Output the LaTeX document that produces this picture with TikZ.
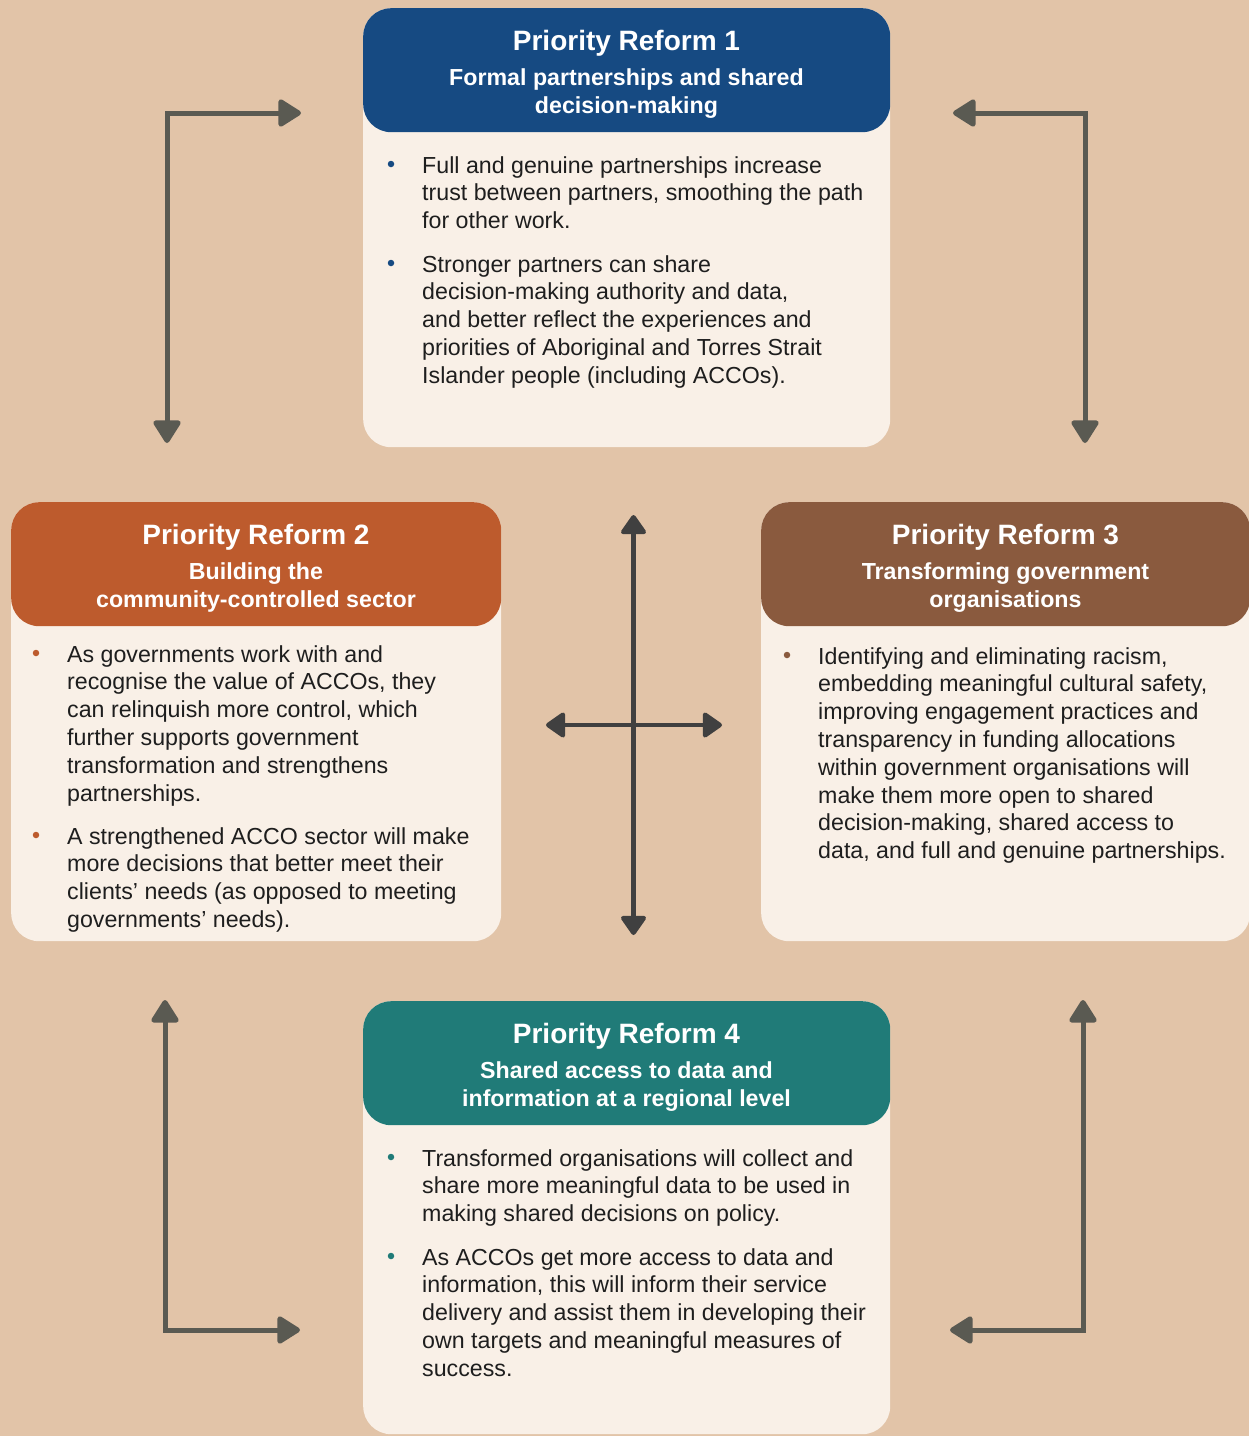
\documentclass[tikz,border=0pt]{standalone}
\usepackage{fontspec}
\setmainfont{Liberation Sans}
\usetikzlibrary{arrows.meta}
\definecolor{bg}{HTML}{E2C4A8}
\definecolor{bodyc}{HTML}{F9F0E7}
\definecolor{pblue}{HTML}{164A82}
\definecolor{porange}{HTML}{BD5B2D}
\definecolor{pbrown}{HTML}{8A5A3E}
\definecolor{pteal}{HTML}{207B78}
\definecolor{agray}{HTML}{5A5A52}
\definecolor{cgray}{HTML}{404040}
\definecolor{txt}{HTML}{1E1E1E}
\newcommand{\bodyfont}{\fontsize{23.2}{27.8}\selectfont}
\newcommand{\para}[1]{\parbox[t]{470pt}{\raggedright\bodyfont #1}}
\newcommand{\subt}[1]{\parbox[t]{480pt}{\centering\fontsize{23.2}{28}\selectfont\bfseries #1}}
\tikzset{
  bodybox/.style={fill=bodyc, draw=none, rounded corners=28pt, anchor=north west, inner sep=0},
  headbox/.style={draw=none, rounded corners=28pt, anchor=north west, inner sep=0, minimum height=124pt},
  titletext/.style={anchor=base, inner sep=0, text=white, font=\fontsize{28}{34}\selectfont\bfseries},
  subtext/.style={anchor=base, inner sep=0, text=white},
  bodytext/.style={anchor=base west, inner sep=0, text=txt},
  bulletdot/.style={circle, inner sep=0, minimum size=6.5pt, draw=none},
  looptip/.tip={Triangle[width=30pt 0,length=25pt 0,line join=round]},
  crosstip/.tip={Triangle[width=28pt 0,length=21pt 0,line join=round]},
  looparrow/.style={draw=agray, line width=5pt, looptip-looptip},
  crossarrow/.style={draw=cgray, line width=4.5pt, crosstip-crosstip}
}
\begin{document}
\begin{tikzpicture}[x=1pt, y=-1pt]
\path[use as bounding box, fill=bg] (0,0) rectangle (1249,1436);

% ---------- Box 1 ----------
\node[bodybox, minimum width=527pt, minimum height=439pt] (b1) at (363,8) {};
\node[headbox, fill=pblue, minimum width=527pt] (h1) at (363,8) {};
\node[titletext] (t1) at (626.5,50) {Priority Reform 1};
\node[subtext] (s1) at (626.5,85) {\subt{Formal partnerships and shared\\decision-making}};
\node[bulletdot, fill=pblue] (d11) at (391,164) {};
\node[bodytext] (p11) at (422,173) {\para{Full and genuine partnerships increase\\trust between partners, smoothing the path\\for other work.}};
\node[bulletdot, fill=pblue] (d12) at (391,263) {};
\node[bodytext] (p12) at (422,272) {\para{Stronger partners can share\\decision-making authority and data,\\and better reflect the experiences and\\priorities of Aboriginal and Torres Strait\\Islander people (including ACCOs).}};

% ---------- Box 2 ----------
\node[bodybox, minimum width=490pt, minimum height=439pt] (b2) at (11,502) {};
\node[headbox, fill=porange, minimum width=490pt] (h2) at (11,502) {};
\node[titletext] (t2) at (256,544) {Priority Reform 2};
\node[subtext] (s2) at (256,579) {\subt{Building the\\community-controlled sector}};
\node[bulletdot, fill=porange] (d21) at (36,653) {};
\node[bodytext] (p21) at (67,662) {\para{As governments work with and\\recognise the value of ACCOs, they\\can relinquish more control, which\\further supports government\\transformation and strengthens\\partnerships.}};
\node[bulletdot, fill=porange] (d22) at (36,835) {};
\node[bodytext] (p22) at (67,844) {\para{A strengthened ACCO sector will make\\more decisions that better meet their\\clients’ needs (as opposed to meeting\\governments’ needs).}};

% ---------- Box 3 ----------
\node[bodybox, minimum width=489pt, minimum height=439pt] (b3) at (761,502) {};
\node[headbox, fill=pbrown, minimum width=489pt] (h3) at (761,502) {};
\node[titletext] (t3) at (1005.5,544) {Priority Reform 3};
\node[subtext] (s3) at (1005.5,579) {\subt{Transforming government\\organisations}};
\node[bulletdot, fill=pbrown] (d31) at (787,655) {};
\node[bodytext] (p31) at (818,664) {\para{Identifying and eliminating racism,\\embedding meaningful cultural safety,\\improving engagement practices and\\transparency in funding allocations\\within government organisations will\\make them more open to shared\\decision-making, shared access to\\data, and full and genuine partnerships.}};

% ---------- Box 4 ----------
\node[bodybox, minimum width=527pt, minimum height=433pt] (b4) at (363,1001) {};
\node[headbox, fill=pteal, minimum width=527pt] (h4) at (363,1001) {};
\node[titletext] (t4) at (626.5,1043) {Priority Reform 4};
\node[subtext] (s4) at (626.5,1078) {\subt{Shared access to data and\\information at a regional level}};
\node[bulletdot, fill=pteal] (d41) at (391,1157) {};
\node[bodytext] (p41) at (422,1166) {\para{Transformed organisations will collect and\\share more meaningful data to be used in\\making shared decisions on policy.}};
\node[bulletdot, fill=pteal] (d42) at (391,1256) {};
\node[bodytext] (p42) at (422,1265) {\para{As ACCOs get more access to data and\\information, this will inform their service\\delivery and assist them in developing their\\own targets and meaningful measures of\\success.}};

% ---------- Loop arrows ----------
\coordinate (tlA) at (167,443);
\coordinate (tlB) at (301,113);
\coordinate (trA) at (953,113);
\coordinate (trB) at (1085,443);
\coordinate (blA) at (165,1000);
\coordinate (blB) at (300,1330);
\coordinate (brA) at (1083,1000);
\coordinate (brB) at (950,1330);
\draw[looparrow] (tlA) |- (tlB);
\draw[looparrow] (trA) -| (trB);
\draw[looparrow] (blA) |- (blB);
\draw[looparrow] (brA) |- (brB);

% ---------- Centre cross ----------
\coordinate (cN) at (633.5,515);
\coordinate (cS) at (633.5,935);
\coordinate (cW) at (546,725);
\coordinate (cE) at (722,725);
\draw[crossarrow] (cN) -- (cS);
\draw[crossarrow] (cW) -- (cE);
\end{tikzpicture}
\end{document}
